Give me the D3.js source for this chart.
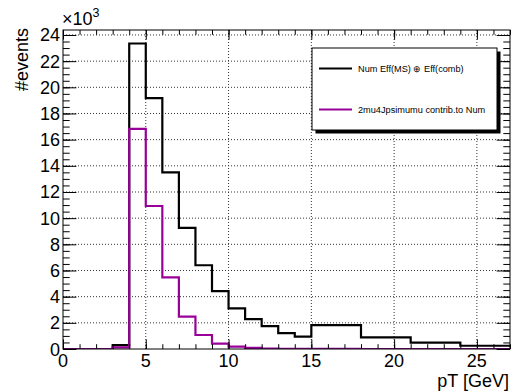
<!DOCTYPE html>
<html>
<head>
<meta charset="utf-8">
<script src="https://cdn.jsdelivr.net/npm/d3@7"></script>
<style>
  html, body { margin: 0; padding: 0; background: #fff; }
  svg { display: block; font-family: "Liberation Sans", Arial, sans-serif; }
</style>
</head>
<body>
<svg id="chart" width="511" height="392"></svg>
<script>
// Bin edges in pT [GeV]: 1 GeV bins up to 15, then 3 GeV bins
const binEdges = [0,1,2,3,4,5,6,7,8,9,10,11,12,13,14,15,18,21,24,27];

// Event counts per bin
const numEffCounts = [0,0,0,300,23350,19170,13500,9250,6400,4420,3100,2290,1750,1220,940,1830,890,480,250];
const jpsiCounts   = [0,0,0,120,16830,10930,5470,2470,1070,410,180,80,40,20,10,5,0,0,0];

const seriesNames = ["Num Eff(MS) \u2295 Eff(comb)", "2mu4Jpsimumu contrib.to Num"];
const seriesColors = ["#000000", "#990099"];

const xTicks = [0,5,10,15,20,25];
const yTicks = [0,2000,4000,6000,8000,10000,12000,14000,16000,18000,20000,22000,24000];

const xDomain = [0, 27];
const yDomain = [0, 24380];

const svg = d3.select("#chart");
const L = 63, R = 510, T = 30, B = 349;

const x = d3.scaleLinear().domain(xDomain).range([L, R]);
const y = d3.scaleLinear().domain(yDomain).range([B, T]);

// Grid lines (dotted)
const grid = svg.append("g");
grid.selectAll("line.gy").data(yTicks.filter(v => v > 0)).join("line")
  .attr("x1", L).attr("x2", R)
  .attr("y1", d => y(d)).attr("y2", d => y(d))
  .attr("stroke", "#333").attr("stroke-width", 1).attr("stroke-dasharray", "1,2");
grid.selectAll("line.gx").data(xTicks.filter(v => v > 0)).join("line")
  .attr("y1", T).attr("y2", B)
  .attr("x1", d => x(d)).attr("x2", d => x(d))
  .attr("stroke", "#333").attr("stroke-width", 1).attr("stroke-dasharray", "1,2");

// Histogram outlines as step paths
svg.append("clipPath").attr("id", "plotclip")
  .append("rect").attr("x", L).attr("y", T).attr("width", R - L).attr("height", B - T);

function stepPoints(counts) {
  const pts = [];
  counts.forEach((c, i) => {
    pts.push([binEdges[i], c]);
    pts.push([binEdges[i + 1], c]);
  });
  return pts;
}
const line = d3.line().x(d => x(d[0])).y(d => y(d[1]));

const hists = svg.append("g").attr("clip-path", "url(#plotclip)");
[numEffCounts, jpsiCounts].forEach((counts, k) => {
  hists.append("path")
    .attr("d", line(stepPoints(counts)))
    .attr("fill", "none")
    .attr("stroke", seriesColors[k])
    .attr("stroke-width", 2.2)
    .attr("stroke-linejoin", "miter");
});

// Axes with major and minor ticks on all four sides
const xMajor = 9.6, xMinor = 4.8, yMajor = 13.4, yMinor = 6.7;
const xMinorTicks = d3.range(0, 28, 1);
const yMinorTicks = d3.range(0, 24500, 500);

function tickAxis(axisGen, ticks, len, transform) {
  return svg.append("g").attr("transform", transform)
    .call(axisGen.tickValues(ticks).tickSize(len).tickFormat(""))
    .call(g => g.select(".domain").remove())
    .call(g => g.selectAll(".tick line").attr("stroke", "#000").attr("stroke-width", 1));
}
// bottom (ticks pointing up)
tickAxis(d3.axisTop(x), xMinorTicks, xMinor, `translate(0,${B})`);
tickAxis(d3.axisTop(x), xTicks, xMajor, `translate(0,${B})`);
// top (ticks pointing down)
tickAxis(d3.axisBottom(x), xMinorTicks, xMinor, `translate(0,${T})`);
tickAxis(d3.axisBottom(x), xTicks, xMajor, `translate(0,${T})`);
// left (ticks pointing right)
tickAxis(d3.axisRight(y), yMinorTicks, yMinor, `translate(${L},0)`);
tickAxis(d3.axisRight(y), yTicks, yMajor, `translate(${L},0)`);
// right (ticks pointing left)
tickAxis(d3.axisLeft(y), yMinorTicks, yMinor, `translate(${R},0)`);
tickAxis(d3.axisLeft(y), yTicks, yMajor, `translate(${R},0)`);

// Frame
svg.append("rect").attr("x", L).attr("y", T).attr("width", R - L).attr("height", B - T)
  .attr("fill", "none").attr("stroke", "#000").attr("stroke-width", 1);

// Tick labels
const fs = 18;
svg.append("g").selectAll("text").data(xTicks).join("text")
  .attr("x", d => x(d)).attr("y", 366.5)
  .attr("text-anchor", "middle").attr("font-size", fs)
  .text(d => d);
svg.append("g").selectAll("text").data(yTicks).join("text")
  .attr("x", 60).attr("y", d => y(d) + 6.5)
  .attr("text-anchor", "end").attr("font-size", fs)
  .text(d => d / 1000);

// Exponent label
const expo = svg.append("text").attr("x", 62).attr("y", 25).attr("font-size", fs);
expo.append("tspan").text("\u00d710");
expo.append("tspan").attr("font-size", 12.5).attr("dy", -8).text("3");

// Axis titles
svg.append("text").attr("x", 509).attr("y", 386.5)
  .attr("text-anchor", "end").attr("font-size", fs).text("pT [GeV]");
svg.append("text").attr("transform", "translate(28,28) rotate(-90)")
  .attr("text-anchor", "end").attr("font-size", fs).text("#events");

// Legend
const lg = { x: 312, y: 48, w: 185, h: 82, sh: 3.5 };
const legend = svg.append("g");
legend.append("rect").attr("x", lg.x + lg.sh).attr("y", lg.y + lg.sh)
  .attr("width", lg.w).attr("height", lg.h).attr("fill", "#000");
legend.append("rect").attr("x", lg.x).attr("y", lg.y)
  .attr("width", lg.w).attr("height", lg.h)
  .attr("fill", "#fff").attr("stroke", "#000").attr("stroke-width", 1);
const entryY = [68.5, 109.5];
seriesNames.forEach((name, k) => {
  legend.append("line").attr("x1", 319).attr("x2", 352)
    .attr("y1", entryY[k]).attr("y2", entryY[k])
    .attr("stroke", seriesColors[k]).attr("stroke-width", 2.2);
  legend.append("text").attr("x", 358).attr("y", entryY[k] + 3.5)
    .attr("font-size", 9.2).text(name);
});
</script>
</body>
</html>
